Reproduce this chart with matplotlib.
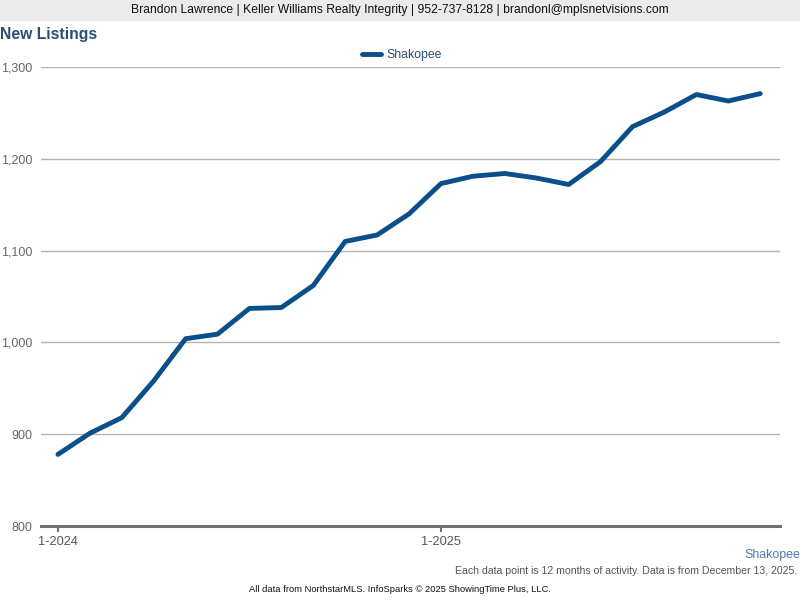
import matplotlib.pyplot as plt
from matplotlib.ticker import FuncFormatter

# data: 12-month rolling new listings, Jan 2024 .. Nov 2025
months = ['1-2024', '2-2024', '3-2024', '4-2024', '5-2024', '6-2024', '7-2024', '8-2024',
          '9-2024', '10-2024', '11-2024', '12-2024', '1-2025', '2-2025', '3-2025', '4-2025',
          '5-2025', '6-2025', '7-2025', '8-2025', '9-2025', '10-2025', '11-2025']
shakopee = [878, 901, 918, 958, 1004, 1009, 1037, 1038, 1062, 1110, 1117, 1140,
            1173, 1181, 1184, 1179, 1172, 1197, 1235, 1251, 1270, 1263, 1271]
tick_labels = ['1-2024', '1-2025']

plt.rcParams['font.family'] = ['Liberation Sans', 'DejaVu Sans']

fig = plt.figure(figsize=(8, 6), dpi=100)

# header band
fig.patches.append(plt.Rectangle((0, 1 - 20 / 600), 1, 20 / 600, transform=fig.transFigure,
                                 color='#ebebeb', zorder=0))
fig.text(0.5, 1 - 10 / 600, 'Brandon Lawrence | Keller Williams Realty Integrity | 952-737-8128 | brandonl@mplsnetvisions.com',
         ha='center', va='center', fontsize=8.75, color='#111111')
fig.text(0.0, 1 - 35 / 600, 'New Listings', ha='left', va='center', fontsize=11.3,
         fontweight='bold', color='#2b4e72')

ax = fig.add_axes([41 / 800, 1 - 526 / 600, (780 - 41) / 800, (526 - 67) / 600])
x = list(range(len(months)))
ax.plot(x, shakopee, color='#0b4f8a', lw=3.5, solid_capstyle='round', solid_joinstyle='round',
        label='Shakopee', zorder=3)

ax.set_xlim(-0.53, 22.62)
ax.set_ylim(800, 1300)
ax.set_yticks([800, 900, 1000, 1100, 1200, 1300])
ax.yaxis.set_major_formatter(FuncFormatter(lambda v, p: f'{int(v):,}'))
ax.set_xticks([months.index(t) for t in tick_labels])
ax.set_xticklabels(tick_labels)
ax.grid(axis='y', color='#b3b3b3', lw=1)
ax.set_axisbelow(True)
for s in ['top', 'right', 'left']:
    ax.spines[s].set_visible(False)
ax.spines['bottom'].set_color('#707070')
ax.spines['bottom'].set_linewidth(2.2)
ax.tick_params(axis='y', length=0, pad=6, labelsize=9, labelcolor='#666666')
ax.tick_params(axis='x', length=4, width=1.5, color='#707070', pad=3, labelsize=9.2,
               labelcolor='#555555')

leg = ax.legend(loc='lower center', bbox_to_anchor=(0.488, 1.0), frameon=False, fontsize=8.8,
                handlelength=1.6, handletextpad=0.4, borderaxespad=0.1)
for t in leg.get_texts():
    t.set_color('#2b4e72')

fig.text(1.0, 1 - 555 / 600, 'Shakopee', ha='right', va='center', fontsize=8.9, color='#4a7ab4')
fig.text(797 / 800, 1 - 571 / 600, 'Each data point is 12 months of activity. Data is from December 13, 2025.',
         ha='right', va='center', fontsize=7.6, color='#555555')
fig.text(0.5, 1 - 590 / 600, 'All data from NorthstarMLS. InfoSparks \u00a9 2025 ShowingTime Plus, LLC.',
         ha='center', va='center', fontsize=6.75, color='#111111')

fig.savefig('out.png', dpi=100)
